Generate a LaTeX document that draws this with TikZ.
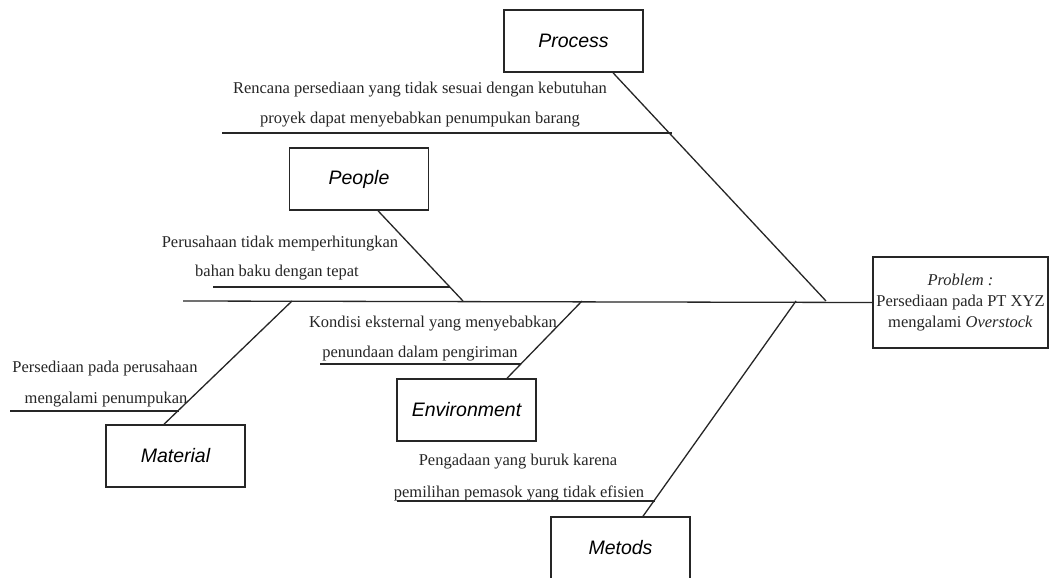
\documentclass[tikz,border=0pt]{standalone}
\usepackage{fontspec}
\setmainfont{Liberation Serif}
\newfontfamily\catfont{Liberation Sans}
\begin{document}
\begin{tikzpicture}[x=1pt,y=-1pt,
  line/.style={draw=black!85, line width=1.3pt},
  catbox/.style={draw=black!85, line width=1.5pt, minimum width=139pt, minimum height=62pt, inner sep=0pt, font=\catfont\fontsize{19.5}{22}\selectfont\itshape},
  cause/.style={inner sep=0pt, anchor=base, font=\fontsize{16.5}{20}\selectfont, text=black!85},
  probbox/.style={draw=black!85, line width=1.5pt, minimum width=175pt, minimum height=91pt, inner sep=0pt, align=center, font=\fontsize{16.5}{21}\selectfont, text=black!85}
]
\useasboundingbox (0,0) rectangle (1050,578);
\fill[white] (0,0) rectangle (1050,578);

% problem head
\node[probbox] (prob) at (960.5,302.5) {\textit{Problem :}\\Persediaan pada PT XYZ\\mengalami \textit{Overstock}};

% category boxes
\node[catbox] (process) at (573.5,41) {Process};
\node[catbox] (people) at (359,179) {People};
\node[catbox] (material) at (175.5,456) {Material};
\node[catbox] (env) at (466.5,410) {Environment};
\node[catbox] (metods) at (620.5,548) {Metods};

% spine
\coordinate (tail) at (183,301);
\draw[line] (tail) -- (prob.west);

% joints on spine
\coordinate (jproc) at (826,301);
\coordinate (jpeop) at (463,301);
\coordinate (jmat) at (292,301);
\coordinate (jenv) at (582,301);
\coordinate (jmet) at (796,301);

% bones
\draw[line] ([xshift=39.5pt]process.south) -- (jproc);
\draw[line] ([xshift=19pt]people.south) -- (jpeop);
\draw[line] ([xshift=-11.5pt]material.north) -- (jmat);
\draw[line] ([xshift=40.5pt]env.north) -- (jenv);
\draw[line] ([xshift=22.5pt]metods.north) -- (jmet);

% ribs
\coordinate (rpa) at (222,133); \coordinate (rpb) at (672,133);
\coordinate (rea) at (213,287); \coordinate (reb) at (450,287);
\coordinate (rma) at (10,411);  \coordinate (rmb) at (179,411);
\coordinate (rna) at (320,364); \coordinate (rnb) at (521,364);
\coordinate (rta) at (397,501); \coordinate (rtb) at (655,501);
\draw[line] (rpa) -- (rpb);
\draw[line] (rea) -- (reb);
\draw[line] (rma) -- (rmb);
\draw[line] (rna) -- (rnb);
\draw[line] (rta) -- (rtb);

% cause texts
\node[cause] (tp1) at (420,94) {Rencana persediaan yang tidak sesuai dengan kebutuhan};
\node[cause] (tp2) at (420,124) {proyek dapat menyebabkan penumpukan barang};
\node[cause] (te1) at (280,247) {Perusahaan tidak memperhitungkan};
\node[cause] (te2) at (277,276) {bahan baku dengan tepat};
\node[cause] (tn1) at (433,327) {Kondisi eksternal yang menyebabkan};
\node[cause] (tn2) at (420,357) {penundaan dalam pengiriman};
\node[cause] (tm1) at (105,372) {Persediaan pada perusahaan};
\node[cause] (tm2) at (106,403) {mengalami penumpukan};
\node[cause] (tt1) at (518,465) {Pengadaan yang buruk karena};
\node[cause] (tt2) at (519,497) {pemilihan pemasok yang tidak efisien};
\end{tikzpicture}
\end{document}
